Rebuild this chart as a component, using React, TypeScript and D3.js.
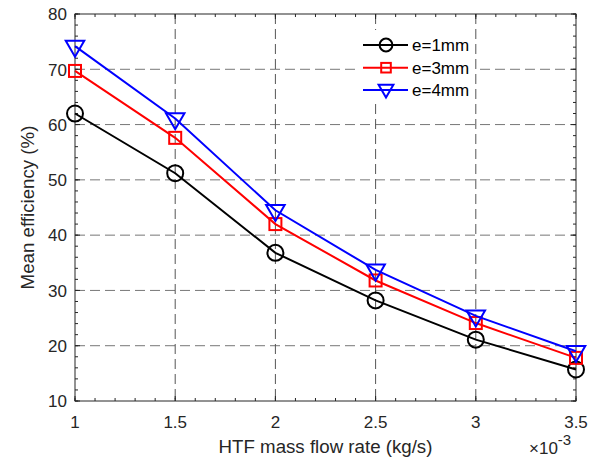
import React from "react";
import * as d3 from "d3";

const flowRates = [1, 1.5, 2, 2.5, 3, 3.5];
const eff1mm = [62.0, 51.2, 36.8, 28.2, 21.1, 15.7];
const eff3mm = [69.7, 57.6, 42.0, 31.8, 24.1, 17.8];
const eff4mm = [74.2, 61.1, 44.5, 33.7, 25.4, 19.0];
const seriesNames = ["e=1mm", "e=3mm", "e=4mm"];
const xTicks = [1, 1.5, 2, 2.5, 3, 3.5];
const yTicks = [10, 20, 30, 40, 50, 60, 70, 80];

const W = 597, H = 461;
const M = { left: 75, right: 576, top: 14, bottom: 401 };
const FONT = "'Liberation Sans', Arial, Helvetica, sans-serif";
const TXT = "#262626";

type MarkerKind = "circle" | "square" | "tri";

function Marker({ kind, x, y, color, size }: { kind: MarkerKind; x: number; y: number; color: string; size: number }) {
  if (kind === "circle") return <circle cx={x} cy={y} r={size * 0.8} fill="none" stroke={color} strokeWidth={2} />;
  if (kind === "square") {
    const s = size * 1.2;
    return <rect x={x - s / 2} y={y - s / 2} width={s} height={s} fill="none" stroke={color} strokeWidth={2} />;
  }
  const r = size * 1.07;
  const pts = [
    [x - r * 0.866, y - r * 0.5],
    [x + r * 0.866, y - r * 0.5],
    [x, y + r],
  ];
  return <polygon points={pts.map((p) => p.join(",")).join(" ")} fill="none" stroke={color} strokeWidth={2} strokeLinejoin="miter" />;
}

export default function App() {
  const x = d3.scaleLinear().domain([1, 3.5]).range([M.left, M.right]);
  const y = d3.scaleLinear().domain([10, 80]).range([M.bottom, M.top]);
  const series = [
    { name: seriesNames[0], values: eff1mm, color: "#000000", kind: "circle" as MarkerKind },
    { name: seriesNames[1], values: eff3mm, color: "#ff0000", kind: "square" as MarkerKind },
    { name: seriesNames[2], values: eff4mm, color: "#0000ff", kind: "tri" as MarkerKind },
  ];
  const line = d3.line<number>().x((_, i) => x(flowRates[i])).y((v) => y(v));
  const xMinor = d3.range(1, 3.5001, 0.1);
  const yMinor = d3.range(10, 80.001, 2);
  const tk = 5, mk = 3;

  const legendRows = [45, 67.7, 90];

  return (
    <svg width={W} height={H} style={{ position: "absolute", left: 0, top: 0, background: "#fff" }} fontFamily={FONT}>
      <rect x={0} y={0} width={W} height={H} fill="#fff" />
      {/* grid */}
      {yTicks.slice(1, -1).map((t) => (
        <line key={"gy" + t} x1={M.left} x2={M.right} y1={y(t)} y2={y(t)} stroke="#777" strokeWidth={1} strokeDasharray="10,5" />
      ))}
      {xTicks.slice(1, -1).map((t) => (
        <line key={"gx" + t} x1={x(t)} x2={x(t)} y1={M.top} y2={M.bottom} stroke="#555" strokeWidth={1} strokeDasharray="10,5" />
      ))}
      {/* minor ticks */}
      {xMinor.map((t, i) => (
        <g key={"xm" + i}>
          <line x1={x(t)} x2={x(t)} y1={M.bottom} y2={M.bottom - mk} stroke={TXT} />
          <line x1={x(t)} x2={x(t)} y1={M.top} y2={M.top + mk} stroke={TXT} />
        </g>
      ))}
      {yMinor.map((t, i) => (
        <g key={"ym" + i}>
          <line x1={M.left} x2={M.left + mk} y1={y(t)} y2={y(t)} stroke={TXT} />
          <line x1={M.right} x2={M.right - mk} y1={y(t)} y2={y(t)} stroke={TXT} />
        </g>
      ))}
      {xTicks.map((t) => (
        <g key={"xt" + t}>
          <line x1={x(t)} x2={x(t)} y1={M.bottom} y2={M.bottom - tk} stroke={TXT} />
          <line x1={x(t)} x2={x(t)} y1={M.top} y2={M.top + tk} stroke={TXT} />
          <text x={x(t)} y={428} textAnchor="middle" fontSize={17} fill={TXT}>{String(t)}</text>
        </g>
      ))}
      {yTicks.map((t) => (
        <g key={"yt" + t}>
          <line x1={M.left} x2={M.left + tk} y1={y(t)} y2={y(t)} stroke={TXT} />
          <line x1={M.right} x2={M.right - tk} y1={y(t)} y2={y(t)} stroke={TXT} />
          <text x={67} y={y(t) + 6.3} textAnchor="end" fontSize={17} fill={TXT}>{String(t)}</text>
        </g>
      ))}
      {/* box */}
      <rect x={M.left} y={M.top} width={M.right - M.left} height={M.bottom - M.top} fill="none" stroke={TXT} strokeWidth={1} />
      {/* series */}
      {series.map((s) => (
        <g key={s.name}>
          <path d={line(s.values) || ""} fill="none" stroke={s.color} strokeWidth={2} />
          {s.values.map((v, i) => (
            <Marker key={i} kind={s.kind} x={x(flowRates[i])} y={y(v)} color={s.color} size={10} />
          ))}
        </g>
      ))}
      {/* legend */}
      <rect x={358} y={30} width={117} height={72} fill="#fff" />
      {series.map((s, i) => (
        <g key={"lg" + s.name}>
          <line x1={363} x2={408} y1={legendRows[i]} y2={legendRows[i]} stroke={s.color} strokeWidth={2} />
          <Marker kind={s.kind} x={386} y={legendRows[i] - (s.kind === "tri" ? 1 : 0)} color={s.color} size={8} />
          <text x={412} y={legendRows[i] + 6} fontSize={17} fill="#000">{s.name}</text>
        </g>
      ))}
      {/* axis labels */}
      <text x={(M.left + M.right) / 2} y={453} textAnchor="middle" fontSize={18.7} fill={TXT}>HTF mass flow rate (kg/s)</text>
      <text transform={`translate(34,${(M.top + M.bottom) / 2}) rotate(-90)`} textAnchor="middle" fontSize={18.7} fill={TXT}>Mean efficiency (%)</text>
      <text x={529} y={454} fontSize={17} fill={TXT}>
        ×10<tspan dy={-9} fontSize={15}>-3</tspan>
      </text>
    </svg>
  );
}
